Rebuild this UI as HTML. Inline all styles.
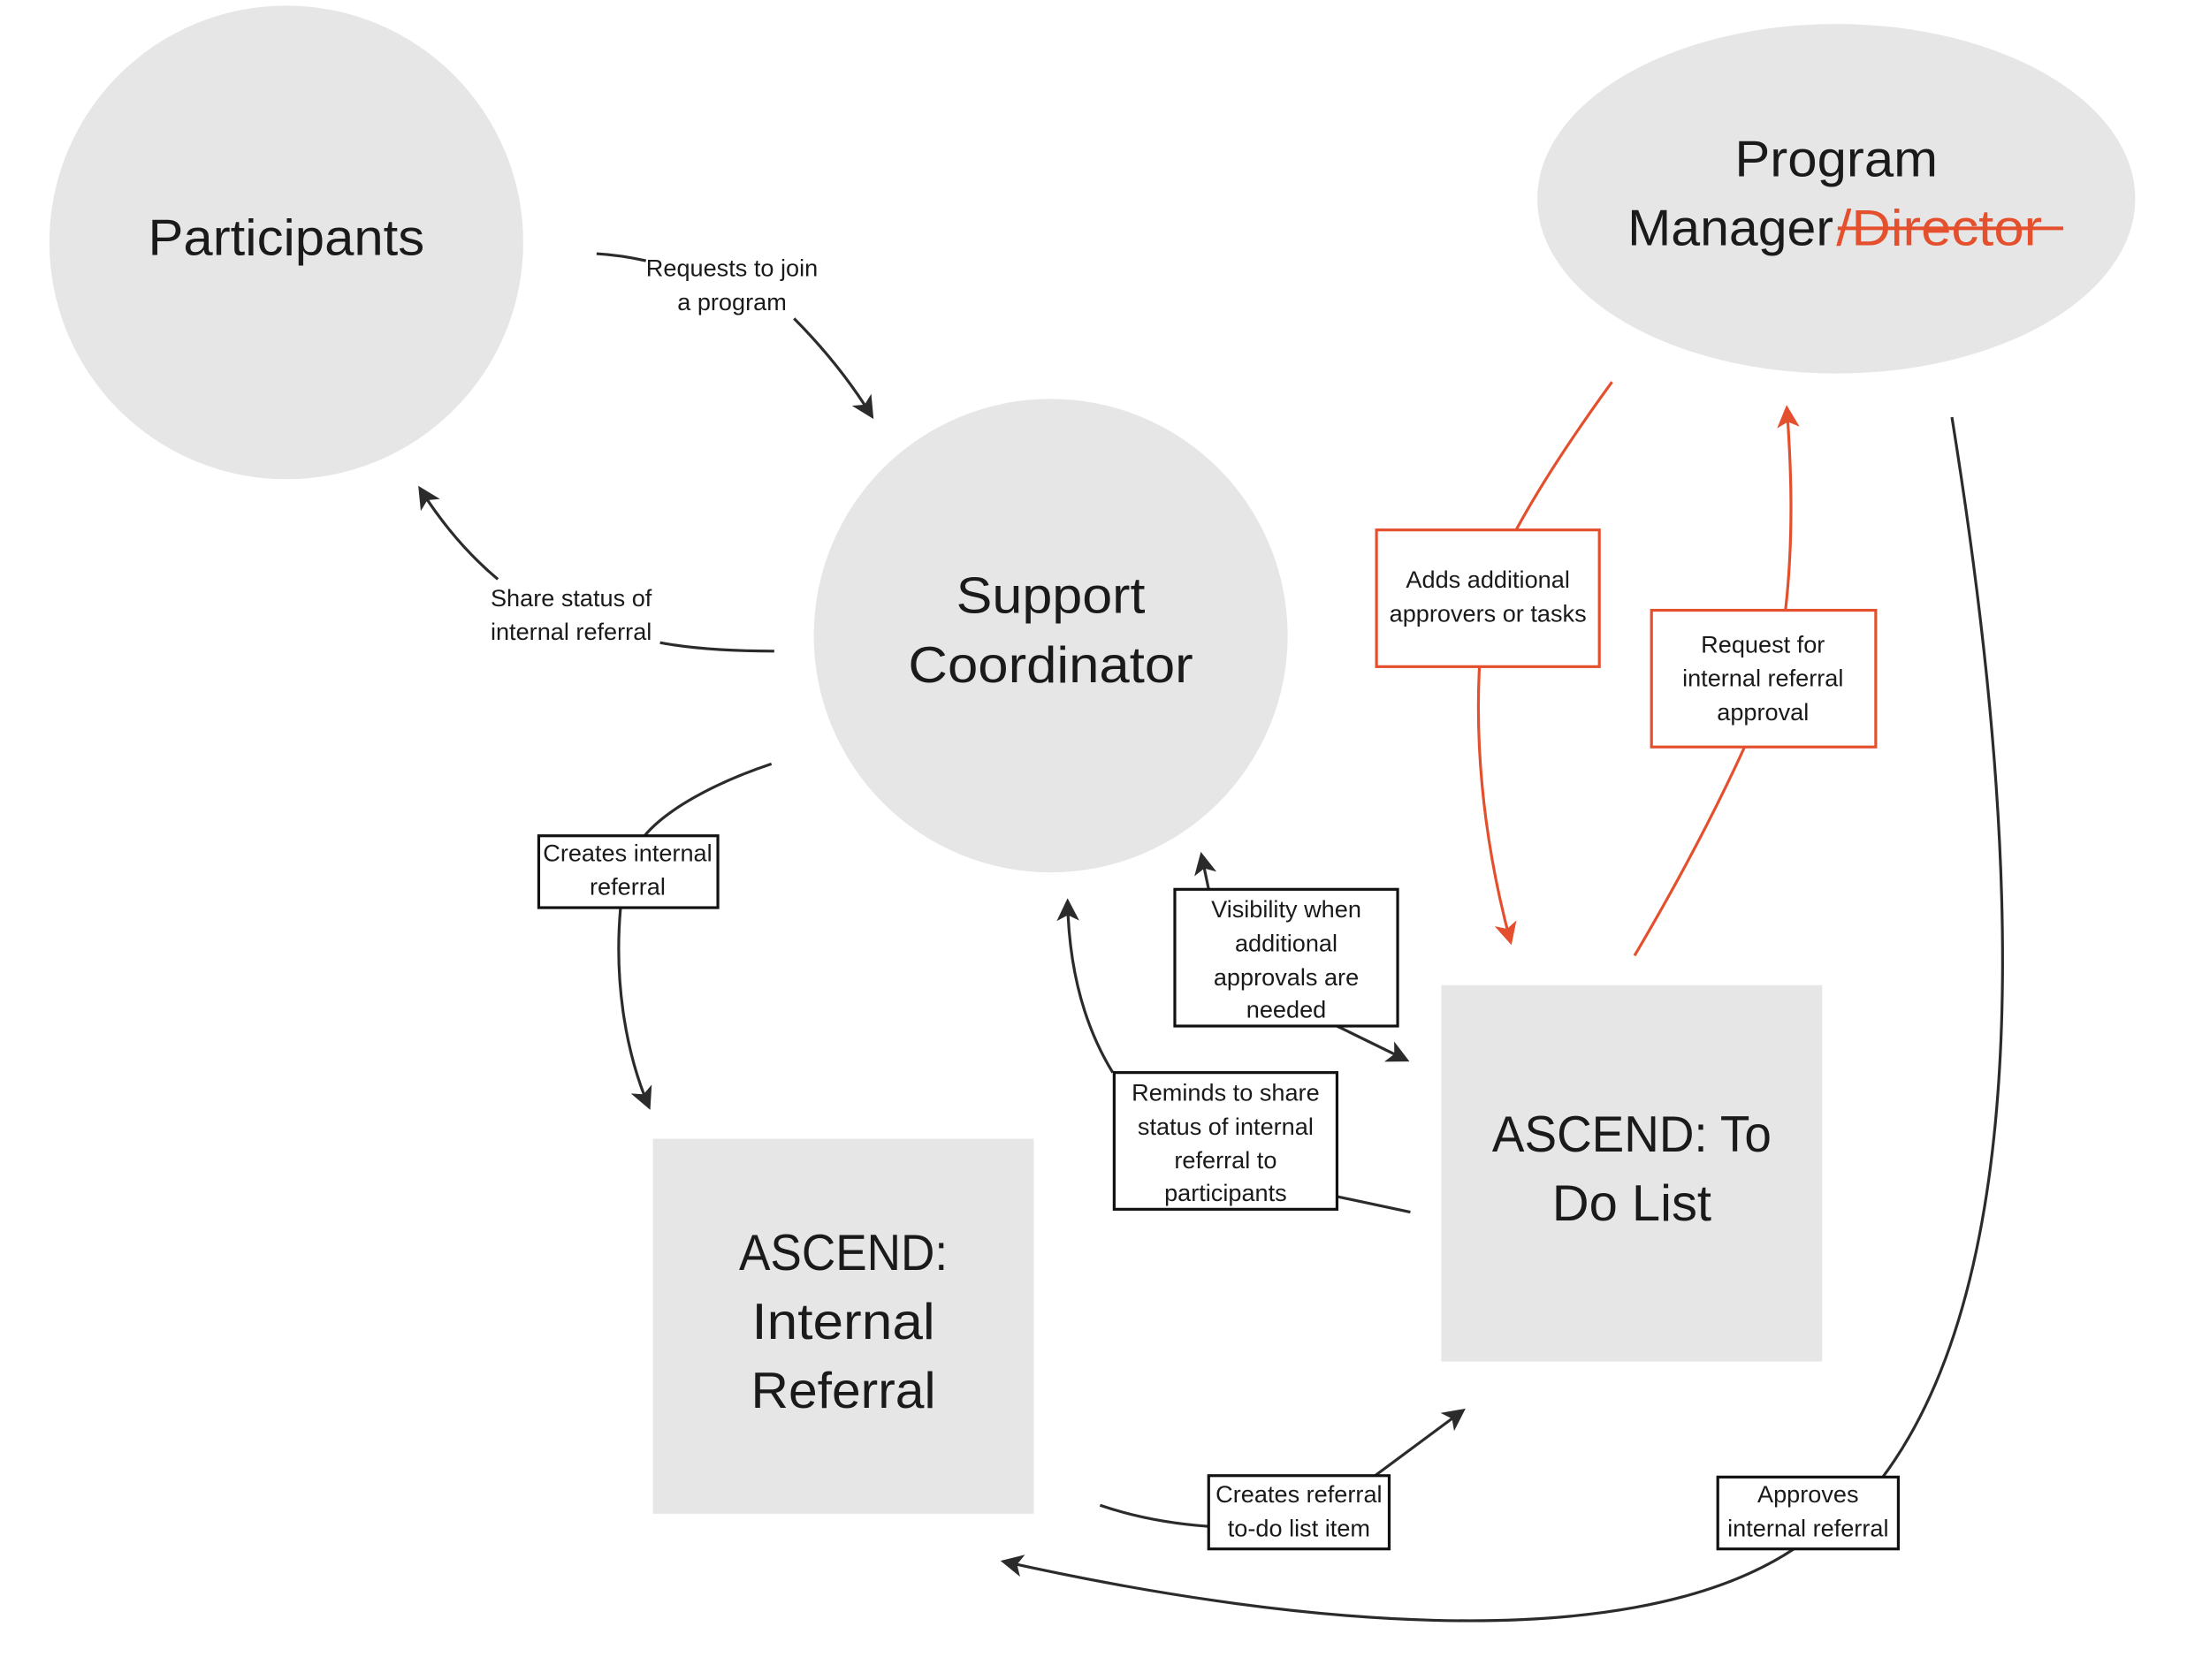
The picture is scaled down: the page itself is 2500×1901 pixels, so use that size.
<!DOCTYPE html>
<html><head><meta charset="utf-8"><style>
html,body{margin:0;padding:0;background:#fff;}
svg{display:block;}
text{font-family:"Liberation Sans",sans-serif;fill:#1a1a1a;}
.big{font-size:36px;}
.lab{font-size:17px;}
</style></head><body>
<svg width="2500" height="1901" viewBox="0 0 1567 1192" preserveAspectRatio="none" xmlns="http://www.w3.org/2000/svg">
<defs>
<marker id="ak" viewBox="0 0 12 12" refX="10" refY="6" markerWidth="16" markerHeight="16" markerUnits="userSpaceOnUse" orient="auto">
<path d="M0,0 L12,6 L0,12 L3,6 z" fill="#2b2b2b"/></marker>
<marker id="ar" viewBox="0 0 12 12" refX="10" refY="6" markerWidth="16" markerHeight="16" markerUnits="userSpaceOnUse" orient="auto">
<path d="M0,0 L12,6 L0,12 L3,6 z" fill="#e4502e"/></marker>
</defs>
<rect width="1567" height="1192" fill="#fff"/>
<circle cx="203" cy="172" r="168" fill="#e6e6e6"/>
<circle cx="745" cy="451" r="168" fill="#e6e6e6"/>
<ellipse cx="1302" cy="141" rx="212" ry="124" fill="#e6e6e6"/>
<rect x="463" y="808" width="270" height="266" fill="#e6e6e6"/>
<rect x="1022" y="699" width="270" height="267" fill="#e6e6e6"/>
<g text-anchor="middle" lengthAdjust="spacingAndGlyphs">
<text class="big" x="203" y="181" textLength="196" lengthAdjust="spacingAndGlyphs">Participants</text>
<text class="big" x="745" y="435" textLength="134" lengthAdjust="spacingAndGlyphs">Support</text>
<text class="big" x="745" y="484" textLength="202" lengthAdjust="spacingAndGlyphs">Coordinator</text>
<text class="big" x="1302" y="125" textLength="144" lengthAdjust="spacingAndGlyphs">Program</text>
<text class="big" x="598" y="901" textLength="148" lengthAdjust="spacingAndGlyphs">ASCEND:</text>
<text class="big" x="598" y="950" textLength="130" lengthAdjust="spacingAndGlyphs">Internal</text>
<text class="big" x="598" y="999" textLength="131" lengthAdjust="spacingAndGlyphs">Referral</text>
<text class="big" x="1157" y="817" textLength="198" lengthAdjust="spacingAndGlyphs">ASCEND: To</text>
<text class="big" x="1157" y="866" textLength="113" lengthAdjust="spacingAndGlyphs">Do List</text>
</g>
<text class="big" x="1154" y="174" textLength="146" lengthAdjust="spacingAndGlyphs">Manager</text>
<text class="big" x="1302" y="174" textLength="146" lengthAdjust="spacingAndGlyphs" style="fill:#e4502e">/Director</text>
<line x1="1303" y1="162" x2="1463" y2="162" stroke="#e4502e" stroke-width="2.5"/>
<g fill="none" stroke="#2b2b2b" stroke-width="2">
<path d="M423,180 Q440,181 458,185"/>
<path d="M563,226 Q595,258 618,295" marker-end="url(#ak)"/>
<path d="M549,462 Q500,462 468,456"/>
<path d="M353,411 Q322,385 298,347" marker-end="url(#ak)"/>
<path d="M547,542 C505,556 472,575 457,593"/>
<path d="M440,644 C435,700 445,750 460,785" marker-end="url(#ak)"/>
<path d="M857,631 L852,607" marker-end="url(#ak)"/>
<path d="M948,728 L997,752" marker-end="url(#ak)"/>
<path d="M1000,860 L948,849"/>
<path d="M789,761 C770,730 758,690 757,640" marker-end="url(#ak)"/>
<path d="M780,1068 Q815,1080 857,1083"/>
<path d="M975,1047 L1037,1001" marker-end="url(#ak)"/>
<path d="M1384,296 C1420,520 1460,880 1335,1048"/>
<path d="M1272,1099 C1150,1180 900,1150 712,1108" marker-end="url(#ak)"/>
</g>
<g fill="none" stroke="#e4502e" stroke-width="2">
<path d="M1143,271 Q1100,330 1075,376"/>
<path d="M1049,473 C1045,550 1058,620 1071,668" marker-end="url(#ar)"/>
<path d="M1237,530 Q1205,600 1159,678"/>
<path d="M1266,433 C1272,380 1270,330 1267,290" marker-end="url(#ar)"/>
</g>
<g fill="#fff" stroke="#111" stroke-width="2">
<rect x="382" y="593" width="127" height="51"/>
<rect x="833" y="631" width="158" height="97"/>
<rect x="790" y="761" width="158" height="97"/>
<rect x="857" y="1047" width="128" height="52"/>
<rect x="1218" y="1048" width="128" height="51"/>
</g>
<g fill="#fff" stroke="#e4502e" stroke-width="2">
<rect x="976" y="376" width="158" height="97"/>
<rect x="1171" y="433" width="159" height="97"/>
</g>
<g text-anchor="middle">
<text class="lab" x="519" y="196">Requests to join</text>
<text class="lab" x="519" y="220">a program</text>
<text class="lab" x="405" y="430">Share status of</text>
<text class="lab" x="405" y="454">internal referral</text>
<text class="lab" x="445" y="611">Creates internal</text>
<text class="lab" x="445" y="635">referral</text>
<text class="lab" x="912" y="651">Visibility when</text>
<text class="lab" x="912" y="675">additional</text>
<text class="lab" x="912" y="699">approvals are</text>
<text class="lab" x="912" y="722">needed</text>
<text class="lab" x="869" y="781">Reminds to share</text>
<text class="lab" x="869" y="805">status of internal</text>
<text class="lab" x="869" y="829">referral to</text>
<text class="lab" x="869" y="852">participants</text>
<text class="lab" x="921" y="1066">Creates referral</text>
<text class="lab" x="921" y="1090">to-do list item</text>
<text class="lab" x="1282" y="1066">Approves</text>
<text class="lab" x="1282" y="1090">internal referral</text>
<text class="lab" x="1055" y="417">Adds additional</text>
<text class="lab" x="1055" y="441">approvers or tasks</text>
<text class="lab" x="1250" y="463">Request for</text>
<text class="lab" x="1250" y="487">internal referral</text>
<text class="lab" x="1250" y="511">approval</text>
</g>
</svg>
</body></html>
